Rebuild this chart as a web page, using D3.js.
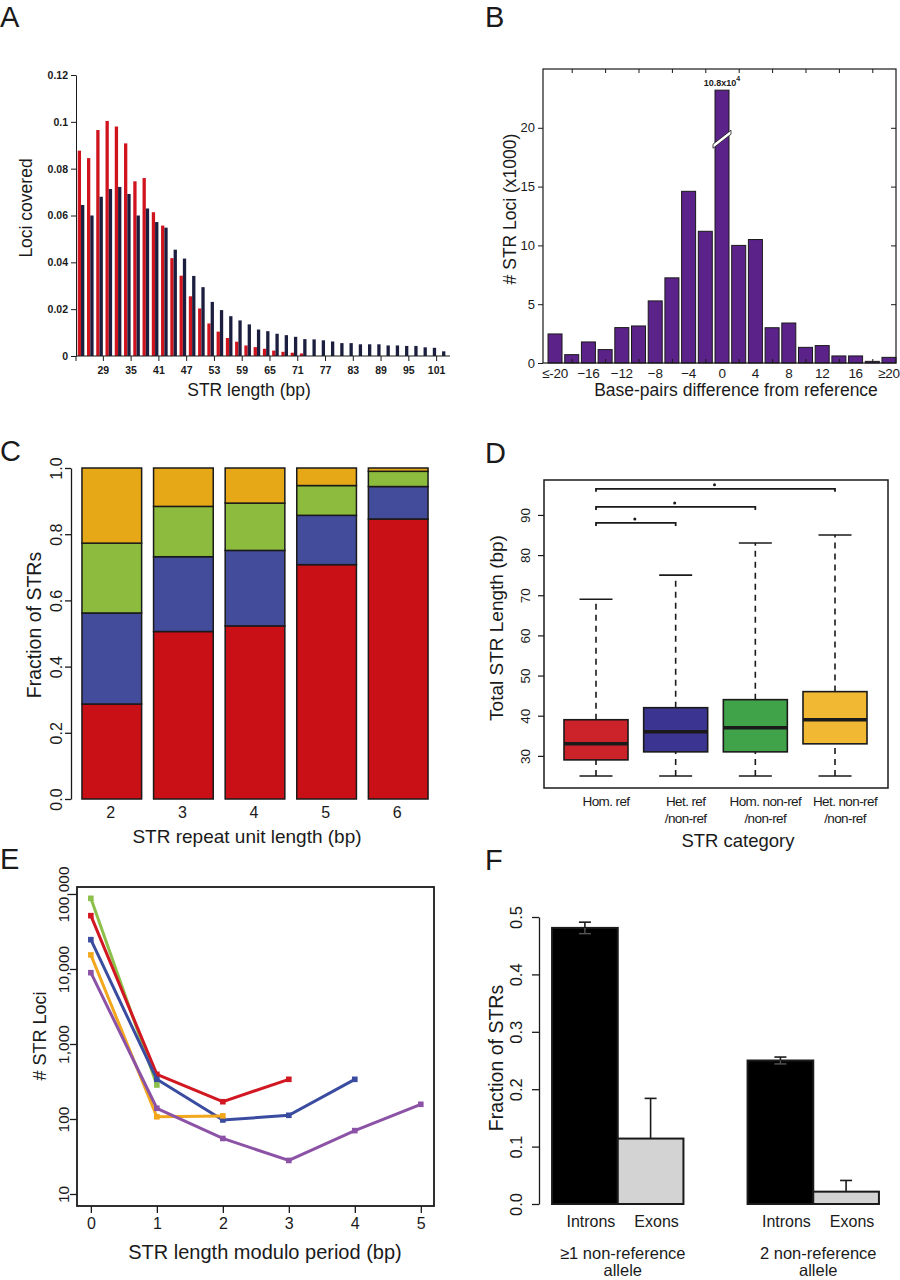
<!DOCTYPE html>
<html lang="en">
<head>
<meta charset="UTF-8">
<title>STR figure</title>
<script src="https://d3js.org/d3.v7.min.js"></script>
<style>
  body { margin: 0; background: #fff; }
  svg text { font-family: "Liberation Sans", Arial, sans-serif; fill: #1a1a1a; }
  .axis path, .axis line { stroke: #1a1a1a; }
</style>
</head>
<body>
<svg width="900" height="1280"></svg>

<script>
// ---------- data ----------
// A: loci covered by STR length
const strLen = [25,27,29,31,33,35,37,39,41,43,45,47,49,51,53,55,57,59,61,63,
                65,67,69,71,73,75,77,79,81,83,85,87,89,91,93,95,97,99,101,103];
const lociRed = [0.0877,0.0845,0.0965,0.1004,0.098,0.0908,0.0746,0.076,0.0614,0.0557,
                 0.0418,0.0343,0.0255,0.0203,0.0139,0.0104,0.0077,0.0061,0.0045,0.0038,
                 0.0031,0.0023,0.0018,0.0014,0.0011,0,0,0,0,0,0,0,0,0,0,0,0,0,0,0];
const lociNavy = [0.0645,0.060,0.068,0.0713,0.0722,0.0692,0.060,0.063,0.0572,0.0548,
                  0.0454,0.0416,0.0342,0.0294,0.0231,0.0196,0.017,0.0152,0.0135,0.0113,
                  0.0106,0.0095,0.0089,0.0082,0.0072,0.0071,0.0067,0.0062,0.0055,0.0055,
                  0.005,0.005,0.005,0.0045,0.0045,0.0043,0.0043,0.0037,0.0035,0.002];
const ticksA = [29,35,41,47,53,59,65,71,77,83,89,95,101];

// B: bp difference from reference
const bpDiff = [-20,-18,-16,-14,-12,-10,-8,-6,-4,-2,0,2,4,6,8,10,12,14,16,18,20];
const lociK = [2.47,0.71,1.79,1.14,3.01,3.15,5.28,7.24,14.6,11.2,23.2,10.0,10.5,3.0,3.4,1.33,1.48,0.6,0.6,0.14,0.48];
const labelsB = ["\u2264-20","\u221216","\u221212","\u22128","\u22124","0","4","8","12","16","\u226520"];
const labelPosB = [-20,-16,-12,-8,-4,0,4,8,12,16,20];
const minorTicksB = [-18,-14,-10,-6,-2,2,6,10,14,18];

// C: fraction of STRs per repeat unit length
const unitLen = ["2","3","4","5","6"];
const fracHomRef    = [0.287,0.506,0.523,0.708,0.846];
const fracHetRef    = [0.275,0.226,0.228,0.149,0.098];
const fracHomNonRef = [0.211,0.152,0.143,0.090,0.046];
const fracHetNonRef = [0.227,0.116,0.106,0.053,0.010];

// D: total STR length per category (whisker low, q1, median, q3, whisker high)
const categories = ["Hom. ref","Het. ref","Hom. non-ref","Het. non-ref"];
const catLine2 = ["","/non-ref","/non-ref","/non-ref"];
const whiskerLo = [25,25,25,25];
const q1 = [29,31,31,33];
const median = [33,36,37,39];
const q3 = [39,42,44,46];
const whiskerHi = [69,75,83,85];
const sigTo = [1,2,3];
const sigY = [88,92,96.5];

// E: STR loci by length modulo period
const modPeriod2 = [87500,284];
const modPeriod4 = [51400,394,170,338];
const modPeriod5 = [24600,338,97,112,338];
const modPeriod3 = [15400,107,110];
const modPeriod6 = [8930,139,55,28,70,157];
const ticksE = [10,100,1000,10000,100000];

// F: fraction of STRs, introns vs exons
const regions = ["Introns","Exons"];
const groupsF = ["\u22651 non-reference|allele","2 non-reference|allele"];
const fracAtLeastOne = [0.481,0.114];
const fracTwo = [0.250,0.0215];
const errAtLeastOne = [0.010,0.070];
const errTwo = [0.006,0.0195];

// ---------- drawing ----------
const svg = d3.select("svg");
const ink = "#1a1a1a";

function letter(t, x, y) {
    svg.append("text").attr("x", x).attr("y", y).attr("font-size", 29).text(t);
}
function vTitle(g, t, x, y, size) {
    g.append("text").attr("transform", `translate(${x},${y}) rotate(-90)`)
        .attr("text-anchor", "middle").attr("font-size", size).text(t);
}
function hTitle(g, t, x, y, size) {
    g.append("text").attr("x", x).attr("y", y)
        .attr("text-anchor", "middle").attr("font-size", size).text(t);
}
// R style vertical tick labels
function rotateTicks(axisG, off, size) {
    axisG.selectAll(".tick text")
        .attr("x", 0).attr("dy", 0).attr("text-anchor", "middle")
        .attr("font-size", size)
        .attr("transform", `translate(${-off},0) rotate(-90)`);
}

// ===== A =====
letter("A", 0, 27);
const gA = svg.append("g");
const xA = d3.scaleLinear().domain([23.2, 104]).range([76, 450]);
const yA = d3.scaleLinear().domain([0, 0.12]).range([356, 75]);

gA.selectAll("rect.red").data(strLen).join("rect").attr("class", "red")
    .attr("x", d => xA(d) - 6.6).attr("width", 3.3)
    .attr("y", (d, i) => yA(lociRed[i])).attr("height", (d, i) => yA(0) - yA(lociRed[i]))
    .attr("fill", "#d0141e");
gA.selectAll("rect.navy").data(strLen).join("rect").attr("class", "navy")
    .attr("x", d => xA(d) - 3.3).attr("width", 3.3)
    .attr("y", (d, i) => yA(lociNavy[i])).attr("height", (d, i) => yA(0) - yA(lociNavy[i]))
    .attr("fill", "#1b1e3e");

const axA_y = gA.append("g").attr("class", "axis").attr("transform", "translate(76,0)")
    .call(d3.axisLeft(yA).tickValues([0,0.02,0.04,0.06,0.08,0.1,0.12])
        .tickFormat(d3.format(".2~f")).tickSize(5).tickSizeOuter(0));
axA_y.selectAll("text").attr("font-size", 10.5).attr("font-weight", "bold");
const axA_x = gA.append("g").attr("class", "axis").attr("transform", "translate(0,356)")
    .call(d3.axisBottom(xA).tickValues(ticksA).tickSize(5).tickPadding(6));
axA_x.selectAll("text").attr("font-size", 10.5).attr("font-weight", "bold");
axA_x.select(".domain").attr("d", "M76,5V0H450");
vTitle(gA, "Loci covered", 32, 208, 17.5);
hTitle(gA, "STR length (bp)", 249, 396, 17.5);

// ===== B =====
letter("B", 485, 27);
const gB = svg.append("g");
const xB = d3.scaleLinear().domain([-21.44, 20.84]).range([543, 896]);
const yB = d3.scaleLinear().domain([0, 25]).range([363, 69]);

gB.selectAll("rect.bar").data(bpDiff).join("rect").attr("class", "bar")
    .attr("x", d => xB(d) - 7).attr("width", 14)
    .attr("y", (d, i) => yB(lociK[i])).attr("height", (d, i) => yB(0) - yB(lociK[i]))
    .attr("fill", "#5b2289").attr("stroke", ink).attr("stroke-width", 1);

// axis break on the tallest bar
const brk = yB(19.2), bx = xB(0);
gB.append("path")
    .attr("d", `M${bx - 9},${brk + 7}L${bx + 9},${brk - 7}L${bx + 9},${brk - 3}L${bx - 9},${brk + 11}Z`)
    .attr("fill", "#fff").attr("stroke", ink).attr("stroke-width", 0.8);
const lblB = gB.append("text").attr("x", bx).attr("y", yB(23.2) - 4)
    .attr("text-anchor", "middle").attr("font-size", 9).attr("font-weight", "bold");
lblB.append("tspan").text("10.8x10");
lblB.append("tspan").attr("dy", -5).attr("font-size", 7).text("4");

gB.append("rect").attr("x", 543).attr("y", 69).attr("width", 353).attr("height", 294)
    .attr("fill", "none").attr("stroke", ink).attr("stroke-width", 1.2);
const axB_y = gB.append("g").attr("class", "axis").attr("transform", "translate(543,0)")
    .call(d3.axisLeft(yB).tickValues([0,5,10,15,20]).tickSize(5).tickSizeOuter(0));
axB_y.select(".domain").remove();
axB_y.selectAll("text").attr("font-size", 13);
gB.append("g").attr("class", "axis").attr("transform", "translate(896,0)")
    .call(d3.axisRight(yB).tickValues([5,10,15,20]).tickSize(-5).tickFormat(""))
    .select(".domain").remove();
gB.append("g").attr("class", "axis").attr("transform", "translate(0,69)")
    .call(d3.axisTop(xB).tickValues(minorTicksB).tickSize(-4).tickFormat(""))
    .select(".domain").remove();
gB.append("g").attr("class", "axis").attr("transform", "translate(0,363)")
    .call(d3.axisBottom(xB).tickValues(minorTicksB).tickSize(-4).tickFormat(""))
    .select(".domain").remove();
gB.selectAll("text.xl").data(labelPosB).join("text").attr("class", "xl")
    .attr("x", d => xB(d)).attr("y", 378).attr("text-anchor", "middle")
    .attr("font-size", 13.5).attr("letter-spacing", -0.3).text((d, i) => labelsB[i]);
vTitle(gB, "# STR Loci (x1000)", 516, 209, 17.5);
hTitle(gB, "Base-pairs difference from reference", 736, 396, 17.5);

// ===== C =====
letter("C", 0, 461);
const gC = svg.append("g");
const xC = d3.scaleBand().domain(unitLen).range([76, 434]).paddingInner(0.1667).paddingOuter(0.0833);
const yC = d3.scaleLinear().domain([0, 1]).range([799, 468]);
const keysC = ["homRef", "hetRef", "homNonRef", "hetNonRef"];
const colC = ["#c91017", "#434b9b", "#8cbb3d", "#e6a817"];
const rowsC = unitLen.map((u, i) => ({
    unit: u, homRef: fracHomRef[i], hetRef: fracHetRef[i],
    homNonRef: fracHomNonRef[i], hetNonRef: fracHetNonRef[i]
}));
const stackC = d3.stack().keys(keysC)(rowsC);
gC.selectAll("g.layer").data(stackC).join("g").attr("class", "layer")
    .attr("fill", (d, i) => colC[i])
    .selectAll("rect").data(d => d).join("rect")
    .attr("x", d => xC(d.data.unit)).attr("width", xC.bandwidth())
    .attr("y", d => yC(d[1])).attr("height", d => yC(d[0]) - yC(d[1]))
    .attr("stroke", ink).attr("stroke-width", 1.5);
const axC_y = gC.append("g").attr("class", "axis").attr("transform", "translate(71,0)")
    .call(d3.axisLeft(yC).tickValues([0,0.2,0.4,0.6,0.8,1]).tickFormat(d3.format(".1f"))
        .tickSize(6).tickSizeOuter(0));
axC_y.selectAll("path,line").attr("stroke-width", 1.3);
rotateTicks(axC_y, 9, 16);
gC.selectAll("text.xl").data(unitLen).join("text").attr("class", "xl")
    .attr("x", d => xC(d) + xC.bandwidth() / 2 - 1).attr("y", 818)
    .attr("text-anchor", "middle").attr("font-size", 16).text(d => d);
vTitle(gC, "Fraction  of STRs", 41, 625, 19.5);
hTitle(gC, "STR repeat unit length (bp)", 247, 843, 19);

// ===== D =====
letter("D", 485, 463);
const gD = svg.append("g");
const xD = d3.scalePoint().domain(categories).range([596, 835]);
const yD = d3.scaleLinear().domain([22, 98.7]).range([788, 480]);
const colD = ["#cc2229", "#3b3591", "#40a349", "#f0b833"];
const boxW = 64, capW = 33;

categories.forEach((c, i) => {
    const cx = xD(c);
    gD.append("line").attr("x1", cx).attr("x2", cx).attr("y1", yD(whiskerLo[i])).attr("y2", yD(q1[i]))
        .attr("stroke", ink).attr("stroke-width", 1.6).attr("stroke-dasharray", "6,5");
    gD.append("line").attr("x1", cx).attr("x2", cx).attr("y1", yD(q3[i])).attr("y2", yD(whiskerHi[i]))
        .attr("stroke", ink).attr("stroke-width", 1.6).attr("stroke-dasharray", "6,5");
    [whiskerLo[i], whiskerHi[i]].forEach(v => {
        gD.append("line").attr("x1", cx - capW / 2).attr("x2", cx + capW / 2)
            .attr("y1", yD(v)).attr("y2", yD(v)).attr("stroke", ink).attr("stroke-width", 1.6);
    });
    gD.append("rect").attr("x", cx - boxW / 2).attr("width", boxW)
        .attr("y", yD(q3[i])).attr("height", yD(q1[i]) - yD(q3[i]))
        .attr("fill", colD[i]).attr("stroke", ink).attr("stroke-width", 1.6);
    gD.append("line").attr("x1", cx - boxW / 2).attr("x2", cx + boxW / 2)
        .attr("y1", yD(median[i])).attr("y2", yD(median[i]))
        .attr("stroke", ink).attr("stroke-width", 3.5);
});
sigTo.forEach((j, k) => {
    const x0 = xD(categories[0]), x1 = xD(categories[j]), y = yD(sigY[k]);
    gD.append("path").attr("d", `M${x0},${y + 3}V${y}H${x1}V${y + 3}`)
        .attr("fill", "none").attr("stroke", ink).attr("stroke-width", 1.8);
    gD.append("circle").attr("cx", (x0 + x1) / 2 - 1).attr("cy", y - 4).attr("r", 1.5).attr("fill", ink);
});
gD.append("rect").attr("x", 544).attr("y", 480).attr("width", 344).attr("height", 308)
    .attr("fill", "none").attr("stroke", ink).attr("stroke-width", 1.5);
const axD_y = gD.append("g").attr("class", "axis").attr("transform", "translate(544,0)")
    .call(d3.axisLeft(yD).tickValues([30,40,50,60,70,80,90]).tickSize(6).tickSizeOuter(0));
axD_y.select(".domain").remove();
axD_y.selectAll("line").attr("stroke-width", 1.2);
rotateTicks(axD_y, 14, 13.5);
categories.forEach((c, i) => {
    gD.append("text").attr("x", xD(c) + 10).attr("y", 806)
        .attr("text-anchor", "middle").attr("font-size", 13.5).attr("letter-spacing", -0.6).text(c);
    if (catLine2[i]) {
        gD.append("text").attr("x", xD(c) + 10).attr("y", 823)
            .attr("text-anchor", "middle").attr("font-size", 13.5).attr("letter-spacing", -0.6).text(catLine2[i]);
    }
});
vTitle(gD, "Total STR Length (bp)", 503, 628, 19);
hTitle(gD, "STR category", 738, 847, 18.5);

// ===== E =====
letter("E", 0, 869);
const gE = svg.append("g");
const xE = d3.scaleLinear().domain([-0.21, 5.2]).range([77, 434]);
const yE = d3.scaleLog().domain([Math.pow(10, 0.84), Math.pow(10, 5.093)]).range([1206, 887]);
const seriesE = [
    { vals: modPeriod2, col: "#8dc04a" },
    { vals: modPeriod4, col: "#d11721" },
    { vals: modPeriod5, col: "#3a4ca0" },
    { vals: modPeriod3, col: "#f2a71c" },
    { vals: modPeriod6, col: "#8b52a6" }
];
const lineE = d3.line().x((d, i) => xE(i)).y(d => yE(d));
seriesE.forEach(s => {
    gE.append("path").datum(s.vals).attr("d", lineE)
        .attr("fill", "none").attr("stroke", s.col).attr("stroke-width", 3);
    gE.selectAll(null).data(s.vals).join("rect")
        .attr("x", (d, i) => xE(i) - 2.8).attr("y", d => yE(d) - 2.8)
        .attr("width", 5.6).attr("height", 5.6).attr("fill", s.col);
});
gE.append("rect").attr("x", 77).attr("y", 887).attr("width", 357).attr("height", 319)
    .attr("fill", "none").attr("stroke", ink).attr("stroke-width", 1.8);
const axE_y = gE.append("g").attr("class", "axis").attr("transform", "translate(77,0)")
    .call(d3.axisLeft(yE).tickValues(ticksE).tickFormat(d3.format(",")).tickSize(7).tickSizeOuter(0));
axE_y.select(".domain").remove();
axE_y.selectAll("line").attr("stroke-width", 1.3);
rotateTicks(axE_y, 8, 15.5);
const axE_x = gE.append("g").attr("class", "axis").attr("transform", "translate(0,1206)")
    .call(d3.axisBottom(xE).tickValues([0,1,2,3,4,5]).tickFormat(d3.format("d")).tickSize(7).tickPadding(5));
axE_x.select(".domain").remove();
axE_x.selectAll("line").attr("stroke-width", 1.3);
axE_x.selectAll("text").attr("font-size", 16);
vTitle(gE, "# STR Loci", 46, 1036, 18);
hTitle(gE, "STR length modulo period (bp)", 265, 1259, 20);

// ===== F =====
letter("F", 485, 870);
const gF = svg.append("g");
const xF = d3.scaleBand().domain(groupsF).range([520, 911]).paddingInner(0.328).paddingOuter(0.164);
const xF2 = d3.scaleBand().domain(regions).range([0, xF.bandwidth()]);
const yF = d3.scaleLinear().domain([0, 0.5]).range([1204, 917]);
const colF = ["#000000", "#d3d3d3"];
const rowsF = [fracAtLeastOne, fracTwo];
const errF = [errAtLeastOne, errTwo];

groupsF.forEach((g, gi) => {
    regions.forEach((r, ri) => {
        const x0 = xF(g) + xF2(r), w = xF2.bandwidth(), cx = x0 + w / 2;
        const v = rowsF[gi][ri], e = errF[gi][ri];
        gF.append("rect").attr("x", x0).attr("width", w)
            .attr("y", yF(v)).attr("height", yF(0) - yF(v))
            .attr("fill", colF[ri]).attr("stroke", ink).attr("stroke-width", 2);
        gF.append("line").attr("x1", cx).attr("x2", cx).attr("y1", yF(v)).attr("y2", yF(v + e))
            .attr("stroke", ink).attr("stroke-width", 1.6);
        gF.append("line").attr("x1", cx - 6).attr("x2", cx + 6).attr("y1", yF(v + e)).attr("y2", yF(v + e))
            .attr("stroke", ink).attr("stroke-width", 1.6);
        if (ri === 0) {
            gF.append("line").attr("x1", cx).attr("x2", cx).attr("y1", yF(v)).attr("y2", yF(v - e))
                .attr("stroke", "#555").attr("stroke-width", 1.4);
            gF.append("line").attr("x1", cx - 6).attr("x2", cx + 6).attr("y1", yF(v - e)).attr("y2", yF(v - e))
                .attr("stroke", "#555").attr("stroke-width", 1.4);
        }
        gF.append("text").attr("x", cx + 6).attr("y", 1227).attr("text-anchor", "middle")
            .attr("font-size", 16).text(r);
    });
    const parts = g.split("|");
    parts.forEach((p, k) => {
        gF.append("text").attr("x", xF(g) + xF.bandwidth() / 2 + 5).attr("y", 1259 + k * 17)
            .attr("text-anchor", "middle").attr("font-size", 16.5).text(p);
    });
});
const axF_y = gF.append("g").attr("class", "axis").attr("transform", "translate(539,0)")
    .call(d3.axisLeft(yF).tickValues([0,0.1,0.2,0.3,0.4,0.5]).tickFormat(d3.format(".1f"))
        .tickSize(7).tickSizeOuter(0));
axF_y.selectAll("path,line").attr("stroke-width", 1.3);
rotateTicks(axF_y, 17, 16.5);
vTitle(gF, "Fraction  of STRs", 503, 1058, 19.5);
</script>
</body>
</html>
